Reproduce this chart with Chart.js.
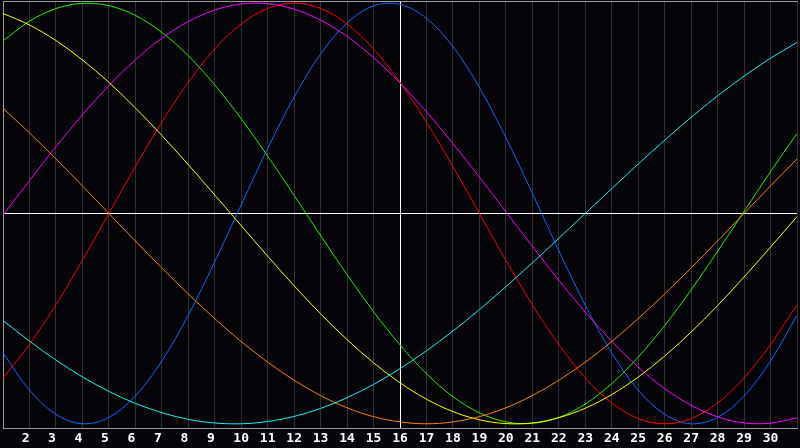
<!DOCTYPE html>
<html>
<head>
<meta charset="utf-8">
<script src="https://cdn.jsdelivr.net/npm/chart.js@4"></script>
<style>
    html, body { margin: 0; padding: 0; background: #050409; }
    #wrap { width: 800px; height: 448px; }
</style>
</head>
<body>
<div id="wrap"><canvas id="bio-chart" width="800" height="448"></canvas></div>
<script>
// Günler (x ekseni)
const days = [1, 2, 3, 4, 5, 6, 7, 8, 9, 10, 11, 12, 13, 14, 15, 16, 17, 18, 19, 20, 21, 22, 23, 24, 25, 26, 27, 28, 29, 30, 31];
const todayDay = 16;

// Eğriler, her gün için okunan değerler (-1 .. 1)
const blueValues = [-0.663, -0.840, -0.955, -1.000, -0.970, -0.868, -0.702, -0.484, -0.230, 0.041, 0.309, 0.554, 0.758, 0.906, 0.987, 0.994, 0.928, 0.793, 0.599, 0.361, 0.096, -0.177, -0.436, -0.663, -0.840, -0.955, -1.000, -0.970, -0.868, -0.702, -0.484];
const greenValues = [0.820, 0.914, 0.974, 0.999, 0.988, 0.942, 0.861, 0.750, 0.611, 0.450, 0.273, 0.086, -0.105, -0.291, -0.467, -0.625, -0.762, -0.871, -0.948, -0.991, -0.998, -0.970, -0.906, -0.809, -0.683, -0.533, -0.363, -0.180, 0.010, 0.199, 0.380];
const redValues = [-0.782, -0.623, -0.434, -0.223, 0.0, 0.223, 0.434, 0.623, 0.782, 0.901, 0.975, 1.0, 0.975, 0.901, 0.782, 0.623, 0.434, 0.223, 0.0, -0.223, -0.434, -0.623, -0.782, -0.901, -0.975, -1.0, -0.975, -0.901, -0.782, -0.623, -0.434];
const magentaValues = [-0.008, 0.156, 0.317, 0.469, 0.608, 0.730, 0.833, 0.912, 0.967, 0.996, 0.997, 0.971, 0.919, 0.842, 0.741, 0.621, 0.483, 0.333, 0.173, 0.008, -0.156, -0.317, -0.469, -0.608, -0.730, -0.833, -0.912, -0.967, -0.996, -0.997, -0.971];
const yellowValues = [0.951, 0.896, 0.822, 0.730, 0.623, 0.502, 0.371, 0.232, 0.088, -0.058, -0.203, -0.344, -0.477, -0.600, -0.710, -0.805, -0.883, -0.942, -0.981, -0.999, -0.996, -0.971, -0.926, -0.861, -0.778, -0.678, -0.564, -0.438, -0.302, -0.160, -0.015];
const orangeValues = [0.500, 0.383, 0.259, 0.131, 0.0, -0.131, -0.259, -0.383, -0.500, -0.609, -0.707, -0.793, -0.866, -0.924, -0.966, -0.991, -1.0, -0.991, -0.966, -0.924, -0.866, -0.793, -0.707, -0.609, -0.500, -0.383, -0.259, -0.131, 0.0, 0.131, 0.259];
const cyanValues = [-0.509, -0.607, -0.697, -0.777, -0.846, -0.903, -0.947, -0.979, -0.996, -1.000, -0.989, -0.965, -0.927, -0.876, -0.813, -0.738, -0.653, -0.559, -0.457, -0.348, -0.235, -0.118, 0.0, 0.118, 0.235, 0.348, 0.457, 0.559, 0.653, 0.738, 0.813];

const gridGray = "#303030";
const frameGray = "#9a9a9a";

function toPoints(values) {
    return days.map((d, i) => ({ x: d, y: values[i] }));
}

function curve(values, color) {
    return {
        data: toPoints(values),
        borderColor: color,
        borderWidth: 1,
        pointRadius: 0,
        fill: false,
        tension: 0.34,
    };
}

const ctx = document.getElementById("bio-chart").getContext("2d");
new Chart(ctx, {
    type: "line",
    data: {
        datasets: [
            curve(cyanValues, "#10f4f4"),
            curve(orangeValues, "#ff8000"),
            curve(yellowValues, "#ffff00"),
            curve(magentaValues, "#ff00ff"),
            curve(greenValues, "#20f000"),
            curve(redValues, "#ff0000"),
            curve(blueValues, "#0a6aff"),
        ],
    },
    options: {
        responsive: false,
        animation: false,
        layout: { padding: 0 },
        plugins: {
            legend: { display: false },
            tooltip: { enabled: false },
        },
        scales: {
            x: {
                type: "linear",
                min: 1,
                max: 31,
                offset: false,
                afterFit: (scale) => {
                    scale.height = 20;
                },
                grid: {
                    drawTicks: false,
                    color: (c) => (c.tick && c.tick.value === todayDay ? "#ffffff" : gridGray),
                },
                border: { display: true, color: frameGray },
                ticks: {
                    stepSize: 1,
                    autoSkip: false,
                    maxRotation: 0,
                    padding: 3,
                    color: "#ffffff",
                    font: { family: "'DejaVu Sans Mono'", size: 13, weight: "bold", lineHeight: 1.2 },
                    // tek haneli etiketler referansta biraz sola kayık
                    callback: (v) => (v === 1 || v === 31 ? "" : v < 10 ? v + " " : String(v)),
                },
            },
            xTop: {
                type: "linear",
                position: "top",
                display: true,
                afterFit: (scale) => {
                    scale.height = 1;
                },
                grid: { display: false, drawTicks: false },
                ticks: { display: false },
                border: { display: true, color: frameGray },
            },
            y: {
                min: -1.02,
                max: 1.01,
                afterFit: (scale) => {
                    scale.width = 1;
                },
                grid: {
                    drawTicks: false,
                    color: (c) => (c.tick && c.tick.value === 0 ? "#ffffff" : "transparent"),
                },
                border: { display: true, color: frameGray },
                ticks: { display: false },
                afterBuildTicks: (scale) => {
                    scale.ticks = [{ value: 0 }];
                },
            },
        },
    },
});
</script>
</body>
</html>
